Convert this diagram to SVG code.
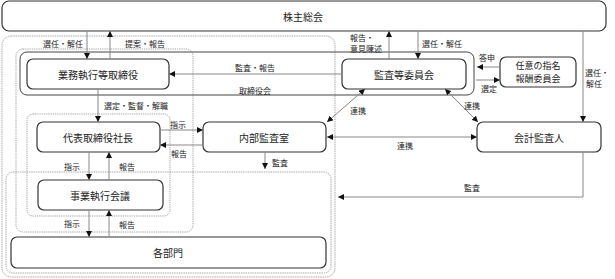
<svg xmlns="http://www.w3.org/2000/svg" width="615" height="279" viewBox="0 0 615 279">
<style>
.node{fill:#fff;stroke:#333;stroke-width:1.2}
.cont{fill:none;stroke:#aaa;stroke-width:1;stroke-dasharray:1.5 0.8}
.dot{fill:none;stroke:#888;stroke-width:0.8;stroke-dasharray:1.2 1}
.board{fill:none;stroke:#444;stroke-width:1}
.t{font-family:"Noto Sans CJK JP","Noto Sans",sans-serif;font-size:10px;fill:#222;text-anchor:middle;dominant-baseline:central}
.s{font-size:9px}
.l{font-family:"Noto Sans CJK JP","Noto Sans",sans-serif;font-size:8px;fill:#222;text-anchor:middle;dominant-baseline:central}
.c{fill:none;stroke:#888;stroke-width:1}
</style>
<defs>
<marker id="a" markerUnits="userSpaceOnUse" markerWidth="6" markerHeight="6" refX="5" refY="2.5" orient="auto-start-reverse" viewBox="0 0 5 5">
<path d="M0,0 L5,2.5 L0,5 z" fill="#111"/>
</marker>
</defs>
<g id="containers">
<rect class="cont" x="2" y="36" width="333" height="241" rx="9"/>
<rect class="cont" x="6" y="172" width="325" height="101" rx="7"/>
<rect class="dot" x="16" y="49" width="177" height="183" rx="7"/>
<rect class="board" x="20" y="52" width="454" height="43" rx="7"/>
<rect class="dot" x="27" y="114" width="143" height="102" rx="6"/>
<text class="l" x="255" y="90">取締役会</text>
</g>
<g id="kabunushi"><rect class="node" x="2" y="1" width="604" height="30" rx="7"/><text class="t" x="303" y="16">株主総会</text></g>
<g id="gyomu"><rect class="node" x="27" y="59" width="142" height="30" rx="6"/><text class="t" x="98" y="74">業務執行等取締役</text></g>
<g id="kansa"><rect class="node" x="342" y="59" width="124" height="30" rx="6"/><text class="t" x="404" y="74">監査等委員会</text></g>
<g id="nini"><rect class="node" x="500" y="57" width="76" height="30" rx="6"/><text class="t s" x="538" y="65.5">任意の指名</text><text class="t s" x="538" y="78.5">報酬委員会</text></g>
<g id="daihyo"><rect class="node" x="37" y="122" width="123" height="30" rx="6"/><text class="t" x="98" y="137">代表取締役社長</text></g>
<g id="naibu"><rect class="node" x="203" y="122" width="123" height="30" rx="6"/><text class="t" x="264" y="137">内部監査室</text></g>
<g id="kaikei"><rect class="node" x="477" y="122" width="124" height="30" rx="6"/><text class="t" x="539" y="137">会計監査人</text></g>
<g id="jigyo"><rect class="node" x="38" y="180" width="125" height="30" rx="6"/><text class="t" x="100" y="195">事業執行会議</text></g>
<g id="kakubu"><rect class="node" x="11" y="237" width="315" height="31" rx="6"/><text class="t" x="168" y="252">各部門</text></g>
<g id="connectors">
<line class="c" x1="87" y1="31" x2="87" y2="59" marker-end="url(#a)"/>
<text class="l" x="63" y="43">選任・解任</text>
<line class="c" x1="110" y1="59" x2="110" y2="31" marker-end="url(#a)"/>
<text class="l" x="145" y="43">提案・報告</text>
<line class="c" x1="342" y1="74" x2="169" y2="74" marker-end="url(#a)"/>
<text class="l" x="255" y="67">監査・報告</text>
<line class="c" x1="389" y1="59" x2="389" y2="31" marker-end="url(#a)"/>
<text class="l" x="362" y="37">報告・</text>
<text class="l" x="366" y="48">意見陳述</text>
<line class="c" x1="418" y1="31" x2="418" y2="59" marker-end="url(#a)"/>
<text class="l" x="442" y="43">選任・解任</text>
<line class="c" x1="500" y1="67" x2="477" y2="67" marker-end="url(#a)"/>
<text class="l" x="487" y="57">答申</text>
<line class="c" x1="476" y1="80" x2="500" y2="80" marker-end="url(#a)"/>
<text class="l" x="489" y="88">選定</text>
<line class="c" x1="583" y1="31" x2="583" y2="122" marker-end="url(#a)"/>
<text class="l" x="597" y="72">選任・</text>
<text class="l" x="594" y="83">解任</text>
<line class="c" x1="365" y1="89" x2="327" y2="122" marker-start="url(#a)" marker-end="url(#a)"/>
<text class="l" x="358" y="110">連携</text>
<line class="c" x1="445" y1="89" x2="478" y2="122" marker-start="url(#a)" marker-end="url(#a)"/>
<text class="l" x="472" y="105">連携</text>
<line class="c" x1="327" y1="137" x2="477" y2="137" marker-start="url(#a)" marker-end="url(#a)"/>
<text class="l" x="405" y="145">連携</text>
<line class="c" x1="160" y1="130" x2="203" y2="130" marker-end="url(#a)"/>
<text class="l" x="178" y="124">指示</text>
<line class="c" x1="203" y1="145" x2="160" y2="145" marker-end="url(#a)"/>
<text class="l" x="179" y="153">報告</text>
<line class="c" x1="265" y1="152" x2="265" y2="169" marker-end="url(#a)"/>
<text class="l" x="280" y="162">監査</text>
<line class="c" x1="98" y1="89" x2="98" y2="122" marker-end="url(#a)"/>
<text class="l" x="136" y="105">選定・監督・解職</text>
<line class="c" x1="89" y1="152" x2="89" y2="180" marker-end="url(#a)"/>
<text class="l" x="72" y="166">指示</text>
<line class="c" x1="109" y1="180" x2="109" y2="152" marker-end="url(#a)"/>
<text class="l" x="127" y="166">報告</text>
<line class="c" x1="89" y1="210" x2="89" y2="237" marker-end="url(#a)"/>
<text class="l" x="72" y="223">指示</text>
<line class="c" x1="109" y1="237" x2="109" y2="210" marker-end="url(#a)"/>
<text class="l" x="127" y="224">報告</text>
<polyline class="c" points="583,152 583,197 338,197" marker-end="url(#a)"/>
<text class="l" x="472" y="187">監査</text>
</g>
</svg>
